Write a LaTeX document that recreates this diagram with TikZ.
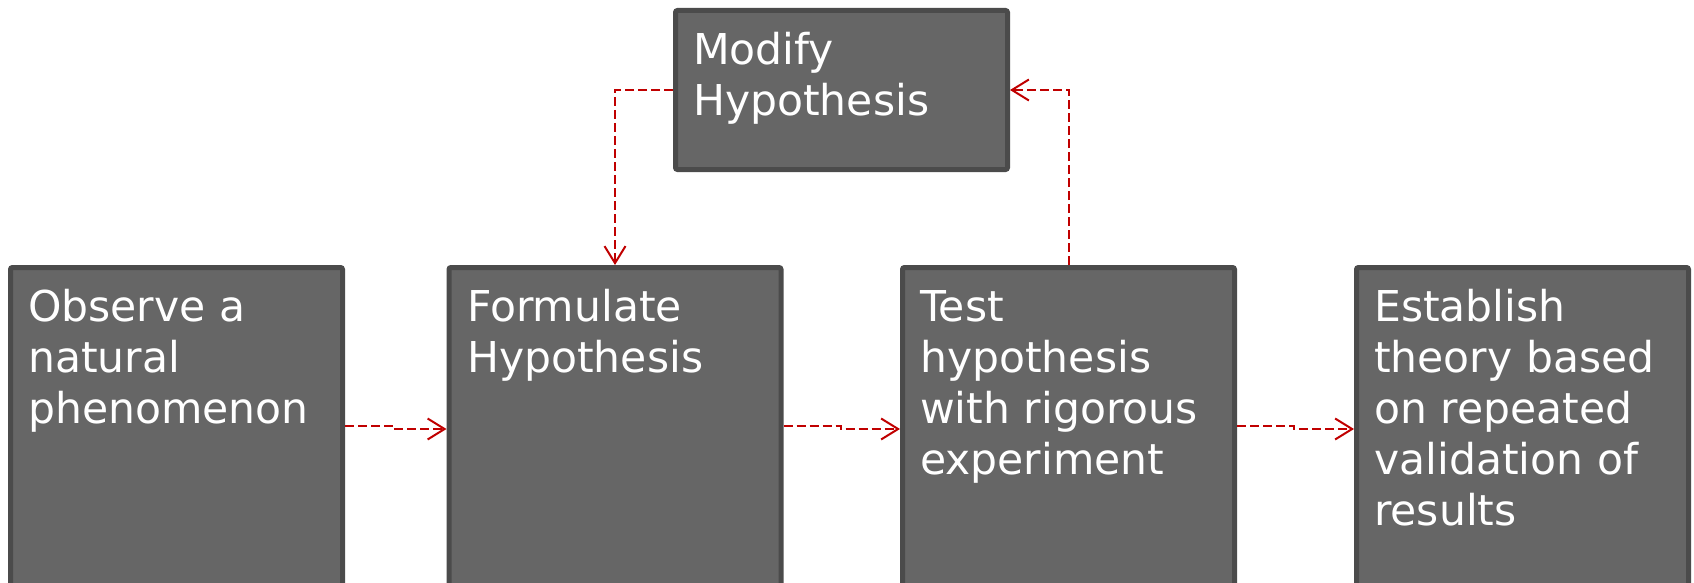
\documentclass[tikz,border=0pt]{standalone}
\usepackage{fontspec}
\setmainfont{DejaVu Sans}
\usetikzlibrary{arrows.meta}

\definecolor{boxfill}{HTML}{666666}
\definecolor{boxline}{HTML}{4B4B4B}
\definecolor{linkred}{HTML}{C00000}

\tikzset{
  stepbox/.style={draw=boxline, fill=boxfill, line width=5pt,
    rounded corners=2pt, minimum width=332pt, inner sep=0pt},
  tallbox/.style={stepbox, minimum height=320pt},
  shortbox/.style={stepbox, minimum height=159pt},
  boxtext/.style={anchor=north west, inner sep=0pt, align=left,
    text=white, font=\fontsize{42.5}{51}\selectfont},
  link/.style={draw=linkred, line width=2pt,
    dash pattern=on 9pt off 4pt,
    -{Straight Barb[length=17pt,width=21pt]}}
}

\begin{document}
\begin{tikzpicture}[x=1pt,y=-1pt]
  \useasboundingbox (0,0) rectangle (1694,583);
  \clip (0,0) rectangle (1694,583);

  % boxes (outer edges: top 265, bottom beyond the page)
  \node[tallbox] (b1) at (176.5,427.5) {};
  \node[tallbox] (b2) at (615,427.5) {};
  \node[tallbox] (b3) at (1068.5,427.5) {};
  \node[tallbox] (b4) at (1522.5,427.5) {};
  \node[shortbox] (m) at (841.5,90) {};

  % labels
  \node[boxtext] (t1) at (28,285.3) {\strut Observe a\\natural\\phenomenon};
  \node[boxtext] (t2) at (467,285.3) {\strut Formulate\\Hypothesis};
  \node[boxtext] (t3) at (920,285.3) {\strut Test\\hypothesis\\with rigorous\\experiment};
  \node[boxtext] (t4) at (1374,285.3) {\strut Establish\\theory based\\on repeated\\validation of\\results};
  \node[boxtext] (tm) at (693,28.3) {\strut Modify\\Hypothesis};

  % connectors
  \draw[link] ([yshift=1.5pt]b1.east) -- ++(50,0) |- ([yshift=-1.5pt]b2.west);
  \draw[link] ([yshift=1.5pt]b2.east) -- ++(57,0) |- ([yshift=-1.5pt]b3.west);
  \draw[link] ([yshift=1.5pt]b3.east) -- ++(57,0) |- ([yshift=-1.5pt]b4.west);
  \draw[link] (m.west) -| (b2.north);
  \draw[link] (b3.north) |- (m.east);
\end{tikzpicture}
\end{document}
